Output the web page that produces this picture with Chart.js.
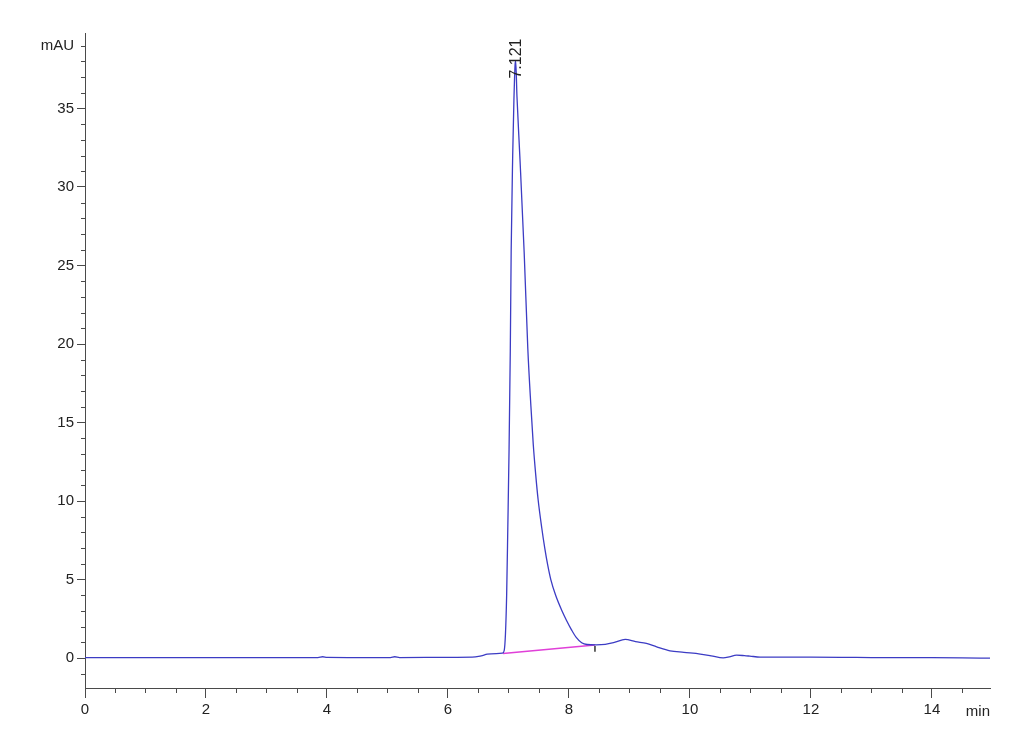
<!DOCTYPE html>
<html>
<head>
<meta charset="utf-8">
<script src="https://cdn.jsdelivr.net/npm/chart.js@4"></script>
<style>
  html, body { margin: 0; padding: 0; background: #fff; }
  #wrap { width: 1030px; height: 755px; }
</style>
</head>
<body>
<div id="wrap"><canvas id="chrom"></canvas></div>
<script>
// retention time (min) and detector signal (mAU)
const timeMin = [0, 1, 2, 3, 3.85, 3.93, 4.0, 4.5, 5.05, 5.12, 5.2, 6.0, 6.4, 6.55, 6.65, 6.8, 6.9,
  6.93, 6.95, 6.97, 6.99, 7.01, 7.03, 7.045, 7.07, 7.09, 7.11, 7.12, 7.14, 7.19, 7.26, 7.32,
  7.37, 7.41, 7.45, 7.49, 7.55, 7.6, 7.65, 7.7, 7.78, 7.88, 7.96, 8.04, 8.12, 8.21, 8.3, 8.45,
  8.6, 8.75, 8.93, 9.1, 9.28, 9.45, 9.67, 9.9, 10.17, 10.35, 10.55, 10.65, 10.77, 10.9, 10.99,
  11.16, 11.5, 12, 12.5, 13, 13.5, 14, 14.5, 14.96];
const signal = [0.04, 0.04, 0.04, 0.04, 0.04, 0.09, 0.05, 0.04, 0.04, 0.09, 0.04, 0.05, 0.06, 0.15, 0.25, 0.29, 0.32,
  0.5, 1.5, 4, 8.5, 13.3, 19.5, 26, 32, 35.5, 37.8, 38.0, 35.8, 31.8, 25.8, 19.7,
  16.1, 13.6, 11.7, 10.1, 8.3, 7.0, 5.9, 5.0, 4.0, 3.05, 2.4, 1.82, 1.32, 0.98, 0.87, 0.85,
  0.88, 1.0, 1.19, 1.05, 0.94, 0.72, 0.47, 0.37, 0.26, 0.15, 0.02, 0.08, 0.19, 0.16, 0.13,
  0.07, 0.07, 0.06, 0.05, 0.04, 0.03, 0.03, 0.02, 0.0];

// integration baseline and end-of-peak marker
const baseTime = [6.91, 8.43];
const baseSignal = [0.30, 0.83];
const markTime = [8.43, 8.43];
const markSignal = [0.78, 0.40];

// peak annotation
const peakLabel = "7.121";
const peakTime = 7.121;
const peakLabelAt = 36.9;

const xTicks = [0, 0.5, 1, 1.5, 2, 2.5, 3, 3.5, 4, 4.5, 5, 5.5, 6, 6.5, 7, 7.5, 8, 8.5, 9, 9.5,
  10, 10.5, 11, 11.5, 12, 12.5, 13, 13.5, 14, 14.5];
const xLabels = ["0", "2", "4", "6", "8", "10", "12", "14"];
const yTicks = [-1, 0, 1, 2, 3, 4, 5, 6, 7, 8, 9, 10, 11, 12, 13, 14, 15, 16, 17, 18, 19, 20,
  21, 22, 23, 24, 25, 26, 27, 28, 29, 30, 31, 32, 33, 34, 35, 36, 37, 38, 39];
const yLabels = ["0", "5", "10", "15", "20", "25", "30", "35"];
const yUnit = "mAU";
const xUnit = "min";

const tickFont = { family: "'Liberation Sans', Arial, sans-serif", size: 15 };
const axisColor = "#4a4a4a";

function pairs(xs, ys) {
  return xs.map((x, i) => ({ x: x, y: ys[i] }));
}

const isMajorX = (v) => xLabels.includes(String(v));
const isMajorY = (v) => yLabels.includes(String(v));

const extras = {
  id: "extras",
  afterDraw(chart) {
    const ctx = chart.ctx;
    const xs = chart.scales.x;
    const ys = chart.scales.y;
    const area = chart.chartArea;
    ctx.save();
    ctx.strokeStyle = axisColor;
    ctx.lineWidth = 1;
    ctx.beginPath();
    xTicks.filter((v) => !isMajorX(v)).forEach((v) => {
      const px = Math.round(xs.getPixelForValue(v)) + 0.5;
      ctx.moveTo(px, area.bottom);
      ctx.lineTo(px, area.bottom + 5);
    });
    yTicks.filter((v) => !isMajorY(v)).forEach((v) => {
      const py = Math.round(ys.getPixelForValue(v)) + 0.5;
      ctx.moveTo(area.left - 4, py);
      ctx.lineTo(area.left, py);
    });
    ctx.stroke();

    ctx.fillStyle = "#222";
    ctx.font = "15px " + tickFont.family;
    ctx.textAlign = "right";
    ctx.textBaseline = "middle";
    ctx.fillText(xUnit, area.right, area.bottom + 24);

    // rotated retention time label
    ctx.translate(xs.getPixelForValue(peakTime) + 1, ys.getPixelForValue(peakLabelAt));
    ctx.rotate(-Math.PI / 2);
    ctx.font = "16px 'Liberation Sans', Arial, sans-serif";
    ctx.textAlign = "left";
    ctx.fillText(peakLabel, 0, 0);
    ctx.restore();
  },
};

new Chart(document.getElementById("chrom"), {
  type: "line",
  data: {
    datasets: [
      {
        data: pairs(timeMin, signal),
        borderColor: "#3c3cc4",
        borderWidth: 1.3,
        pointRadius: 0,
        cubicInterpolationMode: "monotone",
      },
      {
        data: pairs(baseTime, baseSignal),
        borderColor: "#e040d8",
        borderWidth: 1.5,
        pointRadius: 0,
      },
      {
        data: pairs(markTime, markSignal),
        borderColor: "#000",
        borderWidth: 1.2,
        pointRadius: 0,
      },
    ],
  },
  options: {
    responsive: true,
    maintainAspectRatio: false,
    animation: false,
    layout: { padding: { left: 0, top: 33, right: 40, bottom: 0 } },
    plugins: {
      legend: { display: false },
      tooltip: { enabled: false },
    },
    scales: {
      x: {
        type: "linear",
        min: 0,
        max: 14.96,
        afterBuildTicks(scale) {
          scale.ticks = xTicks.map((v) => ({ value: v }));
        },
        afterFit(scale) {
          scale.height = 67;
        },
        ticks: {
          autoSkip: false,
          maxRotation: 0,
          padding: 3,
          color: "#222",
          font: tickFont,
          callback: (v) => (isMajorX(v) ? String(v) : ""),
        },
        grid: {
          drawOnChartArea: false,
          tickLength: 10,
          color: (c) => (c.tick && isMajorX(c.tick.value) ? axisColor : "rgba(0,0,0,0)"),
        },
        border: { color: axisColor, width: 1 },
      },
      y: {
        type: "linear",
        min: -1.9,
        max: 39.8,
        afterBuildTicks(scale) {
          scale.ticks = yTicks.map((v) => ({ value: v }));
        },
        afterFit(scale) {
          scale.width = 85;
        },
        ticks: {
          autoSkip: false,
          padding: 3,
          color: "#222",
          font: tickFont,
          callback: (v) => (v === 39 ? yUnit : isMajorY(v) ? String(v) : ""),
        },
        grid: {
          drawOnChartArea: false,
          tickLength: 8,
          color: (c) => (c.tick && isMajorY(c.tick.value) ? axisColor : "rgba(0,0,0,0)"),
        },
        border: { color: axisColor, width: 1 },
      },
    },
  },
  plugins: [extras],
});
</script>
</body>
</html>
